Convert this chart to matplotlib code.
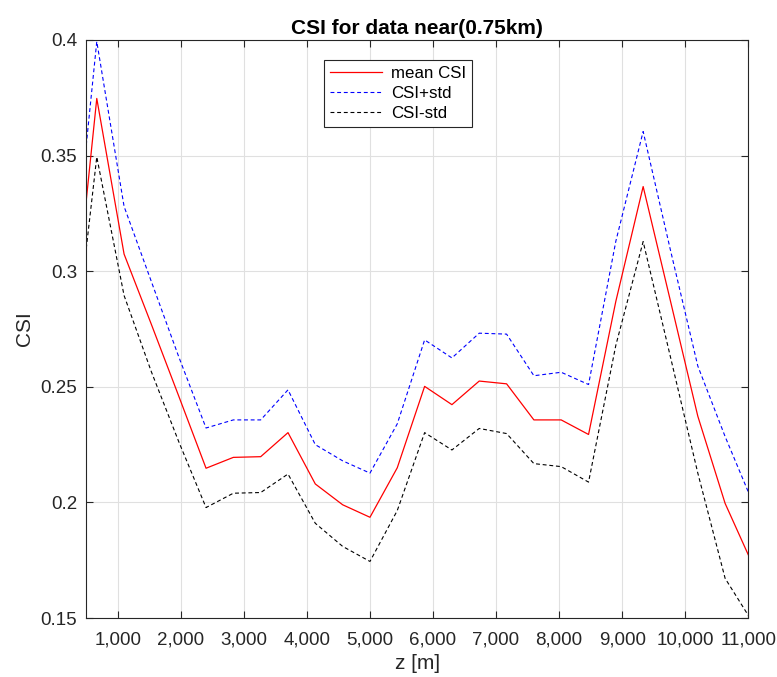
import matplotlib
matplotlib.use("Agg")
import matplotlib.pyplot as plt
from matplotlib.ticker import FuncFormatter

plt.rcParams['font.family'] = ['Liberation Sans', 'DejaVu Sans']

# depth positions [m]
z = [500, 667, 1100, 1533, 1967, 2400, 2833, 3267, 3700, 4133, 4567, 5000, 5433,
     5867, 6300, 6733, 7167, 7600, 8033, 8467, 8900, 9333, 9767, 10200, 10633, 11000]

csi_mean = [0.3306, 0.3747, 0.3074, 0.277, 0.246, 0.2148, 0.2195, 0.2198, 0.2302,
            0.2080, 0.1990, 0.1936, 0.2150, 0.2502, 0.2423, 0.2525, 0.2513, 0.2357,
            0.2357, 0.2294, 0.287, 0.3366, 0.287, 0.2373, 0.1996, 0.1774]

csi_plus = [0.3545, 0.3993, 0.328, 0.2955, 0.263, 0.2322, 0.2357, 0.2357, 0.2487,
            0.2250, 0.2180, 0.2127, 0.2340, 0.2703, 0.2625, 0.2732, 0.2728, 0.2548,
            0.2563, 0.2510, 0.313, 0.3604, 0.309, 0.259, 0.2285, 0.2046]

csi_minus = [0.3098, 0.3494, 0.2895, 0.2565, 0.2263, 0.1978, 0.2040, 0.2043, 0.2123,
             0.1910, 0.1810, 0.1745, 0.1965, 0.2302, 0.2227, 0.2320, 0.2298, 0.2168,
             0.2155, 0.2088, 0.268, 0.3128, 0.2628, 0.2127, 0.1672, 0.1512]

xticks = list(range(1000, 11001, 1000))
yticks = [0.15, 0.2, 0.25, 0.3, 0.35, 0.4]

fig, ax = plt.subplots(figsize=(7.77, 6.77), dpi=100)
fig.subplots_adjust(left=0.111, right=0.963, bottom=0.087, top=0.941)

ax.plot(z, csi_mean, color="red", lw=0.9, label="mean CSI")
ax.plot(z, csi_plus, color="blue", lw=0.8, dashes=(3.5, 2.5), label="CSI+std")
ax.plot(z, csi_minus, color="black", lw=0.8, dashes=(3.5, 2.5), label="CSI-std")

ax.set_xlim(500, 11000)
ax.set_ylim(0.15, 0.4)
ax.set_xticks(xticks)
ax.set_yticks(yticks)
ax.xaxis.set_major_formatter(FuncFormatter(lambda v, p: f"{int(v):,}"))
ax.yaxis.set_major_formatter(FuncFormatter(lambda v, p: f"{v:g}"))

ax.grid(True, color="#e0e0e0", lw=0.8)
ax.set_axisbelow(True)
ax.tick_params(direction="in", top=True, right=True, length=5,
               labelsize=13.5, colors="#262626", width=0.8)
ax.tick_params(axis="x", pad=10)
ax.tick_params(axis="y", pad=6.5)
for s in ax.spines.values():
    s.set_color("#262626")
    s.set_linewidth(0.8)

ax.set_title("CSI for data near(0.75km)", fontsize=15, fontweight="bold", pad=4)
ax.set_xlabel("z [m]", fontsize=15, color="#262626", labelpad=3.5)
ax.set_ylabel("CSI", fontsize=15, color="#262626", labelpad=5)

leg = ax.legend(loc="upper left", bbox_to_anchor=(0.359, 0.965), borderaxespad=0,
                fancybox=False, framealpha=1, edgecolor="#262626", fontsize=12.2,
                handlelength=3.1, handletextpad=0.53, borderpad=0.35, labelspacing=0.3)
leg.get_frame().set_linewidth(0.8)

plt.savefig("out.png", dpi=100)
